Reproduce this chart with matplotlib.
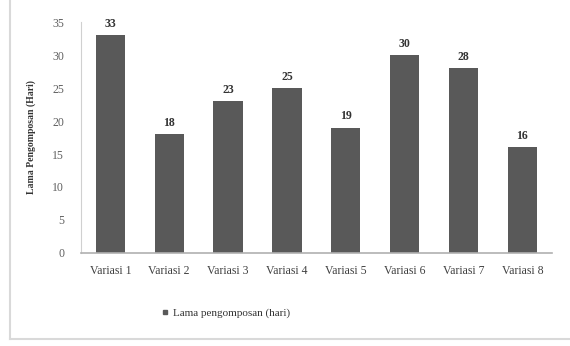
import numpy as np
import matplotlib
matplotlib.use('Agg')
import matplotlib.pyplot as plt
from matplotlib.lines import Line2D

categories = ['Variasi 1', 'Variasi 2', 'Variasi 3', 'Variasi 4',
              'Variasi 5', 'Variasi 6', 'Variasi 7', 'Variasi 8']
lama = [33, 18, 23, 25, 19, 30, 28, 16]
yticks = [0, 5, 10, 15, 20, 25, 30, 35]

plt.rcParams['font.family'] = ['Liberation Serif', 'DejaVu Serif']
bar_color = '#595959'

fig = plt.figure(figsize=(5.7, 3.46), dpi=100)
ax = fig.add_axes([0.142, 0.269, 0.826, 0.667])

x = np.arange(len(categories))
bars = ax.bar(x, lama, width=0.5, color=bar_color, label='Lama pengomposan (hari)')
for xi, v in zip(x, lama):
    ax.text(xi, v + 0.8, str(v), ha='center', va='bottom', fontsize=8.5,
            fontweight='bold', color='#333333')

ax.set_xlim(-0.5, len(categories) - 0.5)
ax.set_ylim(0, 35)
ax.set_yticks(yticks)
ax.set_xticks(x)
ax.set_xticklabels(categories, fontsize=8.5, color='#404040')
ax.tick_params(axis='y', labelsize=8.5, labelcolor='#606060', length=0, pad=12)
ax.tick_params(axis='x', length=0, pad=9)
ax.set_ylabel('Lama Pengomposan (Hari)', fontsize=7, fontweight='bold', color='#333333')
ax.yaxis.set_label_coords(-0.095, 0.5)

for side in ['top', 'right']:
    ax.spines[side].set_visible(False)
ax.spines['left'].set_color('#d0d0d0')
ax.spines['bottom'].set_color('#b0b0b0')
ax.spines['bottom'].set_linewidth(1.2)

leg = fig.legend(handles=[Line2D([], [], marker='s', color=bar_color, linestyle='none', markersize=3)],
                 labels=['Lama pengomposan (hari)'], loc='center left',
                 bbox_to_anchor=(0.265, 0.095), frameon=False, fontsize=8,
                 handletextpad=0.3, handlelength=0.8)
for t in leg.get_texts():
    t.set_color('#333333')

# outer frame edges
fig.add_artist(Line2D([0.017, 0.017], [0.02, 1.0], color='#d9d9d9', lw=1.5))
fig.add_artist(Line2D([0.017, 1.0], [0.02, 0.02], color='#d9d9d9', lw=1.5))

fig.savefig('out.png', dpi=100)
